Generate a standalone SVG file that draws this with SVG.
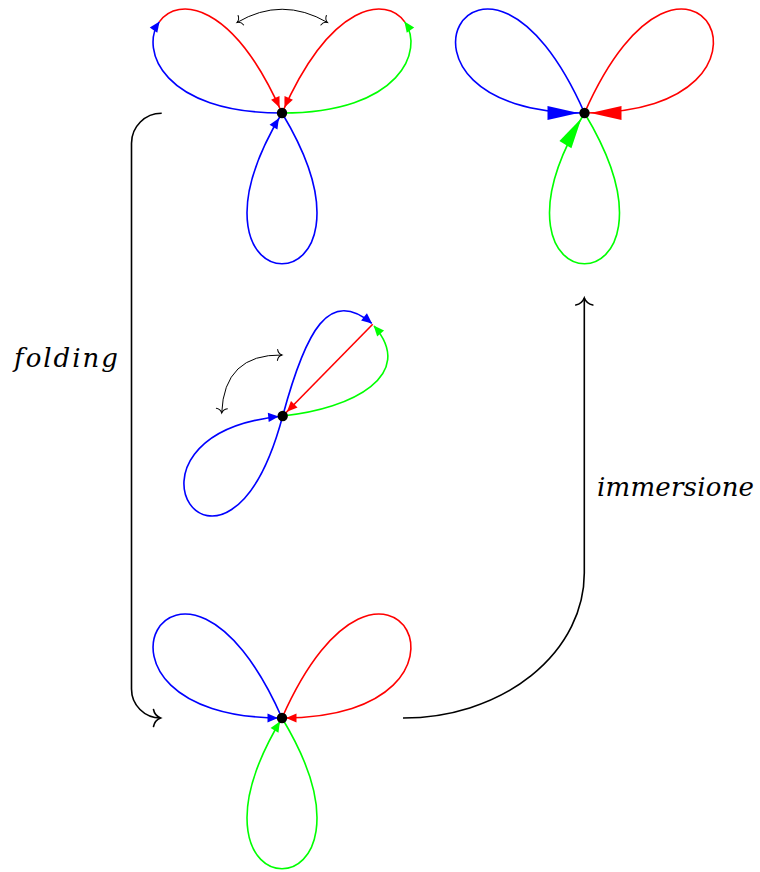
<svg xmlns="http://www.w3.org/2000/svg" width="760" height="872" viewBox="0 0 760 872">
<style>
.l{fill:none;stroke-width:1.6;stroke-linecap:butt}
.b{stroke:#0000ff}.r{stroke:#ff0000}.g{stroke:#00ff00}
.k{fill:none;stroke:#000;stroke-width:1.6}
.t{fill:none;stroke:#000;stroke-width:1}
</style>
<defs>
<marker id="sb4" viewBox="-20 -10 30 20" markerWidth="30" markerHeight="20" refX="4" refY="0" orient="auto" markerUnits="userSpaceOnUse"><path d="M0,0 L-10.5,-4.6 L-10.5,4.6 Z" fill="#0000ff"/></marker>
<marker id="sr4" viewBox="-20 -10 30 20" markerWidth="30" markerHeight="20" refX="4" refY="0" orient="auto" markerUnits="userSpaceOnUse"><path d="M0,0 L-10.5,-4.6 L-10.5,4.6 Z" fill="#ff0000"/></marker>
<marker id="sg4" viewBox="-20 -10 30 20" markerWidth="30" markerHeight="20" refX="4" refY="0" orient="auto" markerUnits="userSpaceOnUse"><path d="M0,0 L-10.5,-4.6 L-10.5,4.6 Z" fill="#00ff00"/></marker>
<marker id="sb6" viewBox="-20 -10 30 20" markerWidth="30" markerHeight="20" refX="6" refY="0" orient="auto" markerUnits="userSpaceOnUse"><path d="M0,0 L-10.5,-4.6 L-10.5,4.6 Z" fill="#0000ff"/></marker>
<marker id="sr6" viewBox="-20 -10 30 20" markerWidth="30" markerHeight="20" refX="6" refY="0" orient="auto" markerUnits="userSpaceOnUse"><path d="M0,0 L-10.5,-4.6 L-10.5,4.6 Z" fill="#ff0000"/></marker>
<marker id="sb0" viewBox="-20 -10 30 20" markerWidth="30" markerHeight="20" refX="0" refY="0" orient="auto" markerUnits="userSpaceOnUse"><path d="M0.5,0 L-10,-4.6 L-10,4.6 Z" fill="#0000ff"/></marker>
<marker id="sg0" viewBox="-20 -10 30 20" markerWidth="30" markerHeight="20" refX="0" refY="0" orient="auto" markerUnits="userSpaceOnUse"><path d="M0.5,0 L-10,-4.6 L-10,4.6 Z" fill="#00ff00"/></marker>
<marker id="Lb" viewBox="-40 -10 50 20" markerWidth="50" markerHeight="20" refX="6" refY="0" orient="auto" markerUnits="userSpaceOnUse"><path d="M0,0 L-31,-7 L-31,7 Z" fill="#0000ff"/></marker>
<marker id="Lr" viewBox="-40 -10 50 20" markerWidth="50" markerHeight="20" refX="6" refY="0" orient="auto" markerUnits="userSpaceOnUse"><path d="M0,0 L-31,-7 L-31,7 Z" fill="#ff0000"/></marker>
<marker id="Lg" viewBox="-40 -10 50 20" markerWidth="50" markerHeight="20" refX="6" refY="0" orient="auto" markerUnits="userSpaceOnUse"><path d="M0,0 L-31,-7 L-31,7 Z" fill="#00ff00"/></marker>
<marker id="to" viewBox="-12 -12 16 24" markerWidth="16" markerHeight="24" refX="0" refY="0" orient="auto" markerUnits="userSpaceOnUse"><path d="M-7,-8.5 C-6,-3.5 -2,-0.8 0,0 C-2,0.8 -6,3.5 -7,8.5" fill="none" stroke="#000" stroke-width="1.6" stroke-linecap="round"/></marker>
<marker id="tot" viewBox="-8 -8 12 16" markerWidth="12" markerHeight="16" refX="0" refY="0" orient="auto-start-reverse" markerUnits="userSpaceOnUse"><path d="M-4.5,-5.5 C-4,-2.2 -1.5,-0.5 0,0 C-1.5,0.5 -4,2.2 -4.5,5.5" fill="none" stroke="#000" stroke-width="1" stroke-linecap="round"/></marker>
</defs>

<g id="connectors">
<path class="k" d="M161.7,113.3 A30,30 0 0 0 131.5,143.3 L131.5,689 A29,29 0 0 0 160.5,718" marker-end="url(#to)"/>
<path class="k" d="M403,718 A181,145 0 0 0 584.3,573 L584.3,298" marker-end="url(#to)"/>
</g>

<g id="fig-a">
<path class="l b" d="M282,113 C403,314 161,314 282,113" marker-end="url(#sb6)"/>
<path class="l b" d="M282,113 C162.9,113 139.6,49.7 159.3,21.9" marker-end="url(#sb0)"/>
<path class="l r" d="M159.3,21.9 C177.5,-3.8 232.2,0.7 282,113" marker-end="url(#sr6)"/>
<path class="l g" d="M282,113 C401.1,113 424.4,49.7 404.7,21.9" marker-end="url(#sg0)"/>
<path class="l r" d="M404.7,21.9 C386.5,-3.8 331.8,0.7 282,113" marker-end="url(#sr6)"/>
<path class="t" d="M237,22.5 Q282,-4 327.5,22.5" marker-start="url(#tot)" marker-end="url(#tot)"/>
<circle cx="282" cy="113" r="5.2"/>
</g>

<g id="fig-b">
<path class="l b" d="M584.5,113 C480.8,-121 355.5,113 584.5,113" marker-end="url(#Lb)"/>
<path class="l r" d="M584.5,113 C688.2,-121 813.5,113 584.5,113" marker-end="url(#Lr)"/>
<path class="l g" d="M584.5,113 C705.5,314 463.5,314 584.5,113" marker-end="url(#Lg)"/>
<circle cx="584.5" cy="113" r="5.2"/>
</g>

<g id="fig-c">
<path class="l b" d="M282.7,416 C225,631.3 92.7,435 282.7,416" marker-end="url(#sb4)"/>
<path class="l b" d="M282.7,416 C306.1,329.1 329.3,288.1 371.7,323.3" marker-end="url(#sb0)"/>
<path class="l r" d="M372.7,324.3 L282.7,416" marker-end="url(#sr6)"/>
<path class="l g" d="M282.7,416 C352.7,409 416.9,374.8 374,326" marker-end="url(#sg0)"/>
<path class="t" d="M221.7,413 Q224,354 282,355" marker-start="url(#tot)" marker-end="url(#tot)"/>
<circle cx="282.7" cy="416" r="5.2"/>
</g>

<g id="fig-d">
<path class="l b" d="M282,718 C178.3,484 53,718 282,718" marker-end="url(#sb4)"/>
<path class="l r" d="M282,718 C385.7,484 511,718 282,718" marker-end="url(#sr4)"/>
<path class="l g" d="M282,718 C403,919 161,919 282,718" marker-end="url(#sg4)"/>
<circle cx="282" cy="718" r="5.2"/>
</g>

<g id="labels" font-family="DejaVu Serif, serif" font-style="italic" font-size="26" fill="#000">
<text x="14" y="367" textLength="104" lengthAdjust="spacing">folding</text>
<text x="597" y="496" textLength="157" lengthAdjust="spacing">immersione</text>
</g>
</svg>
